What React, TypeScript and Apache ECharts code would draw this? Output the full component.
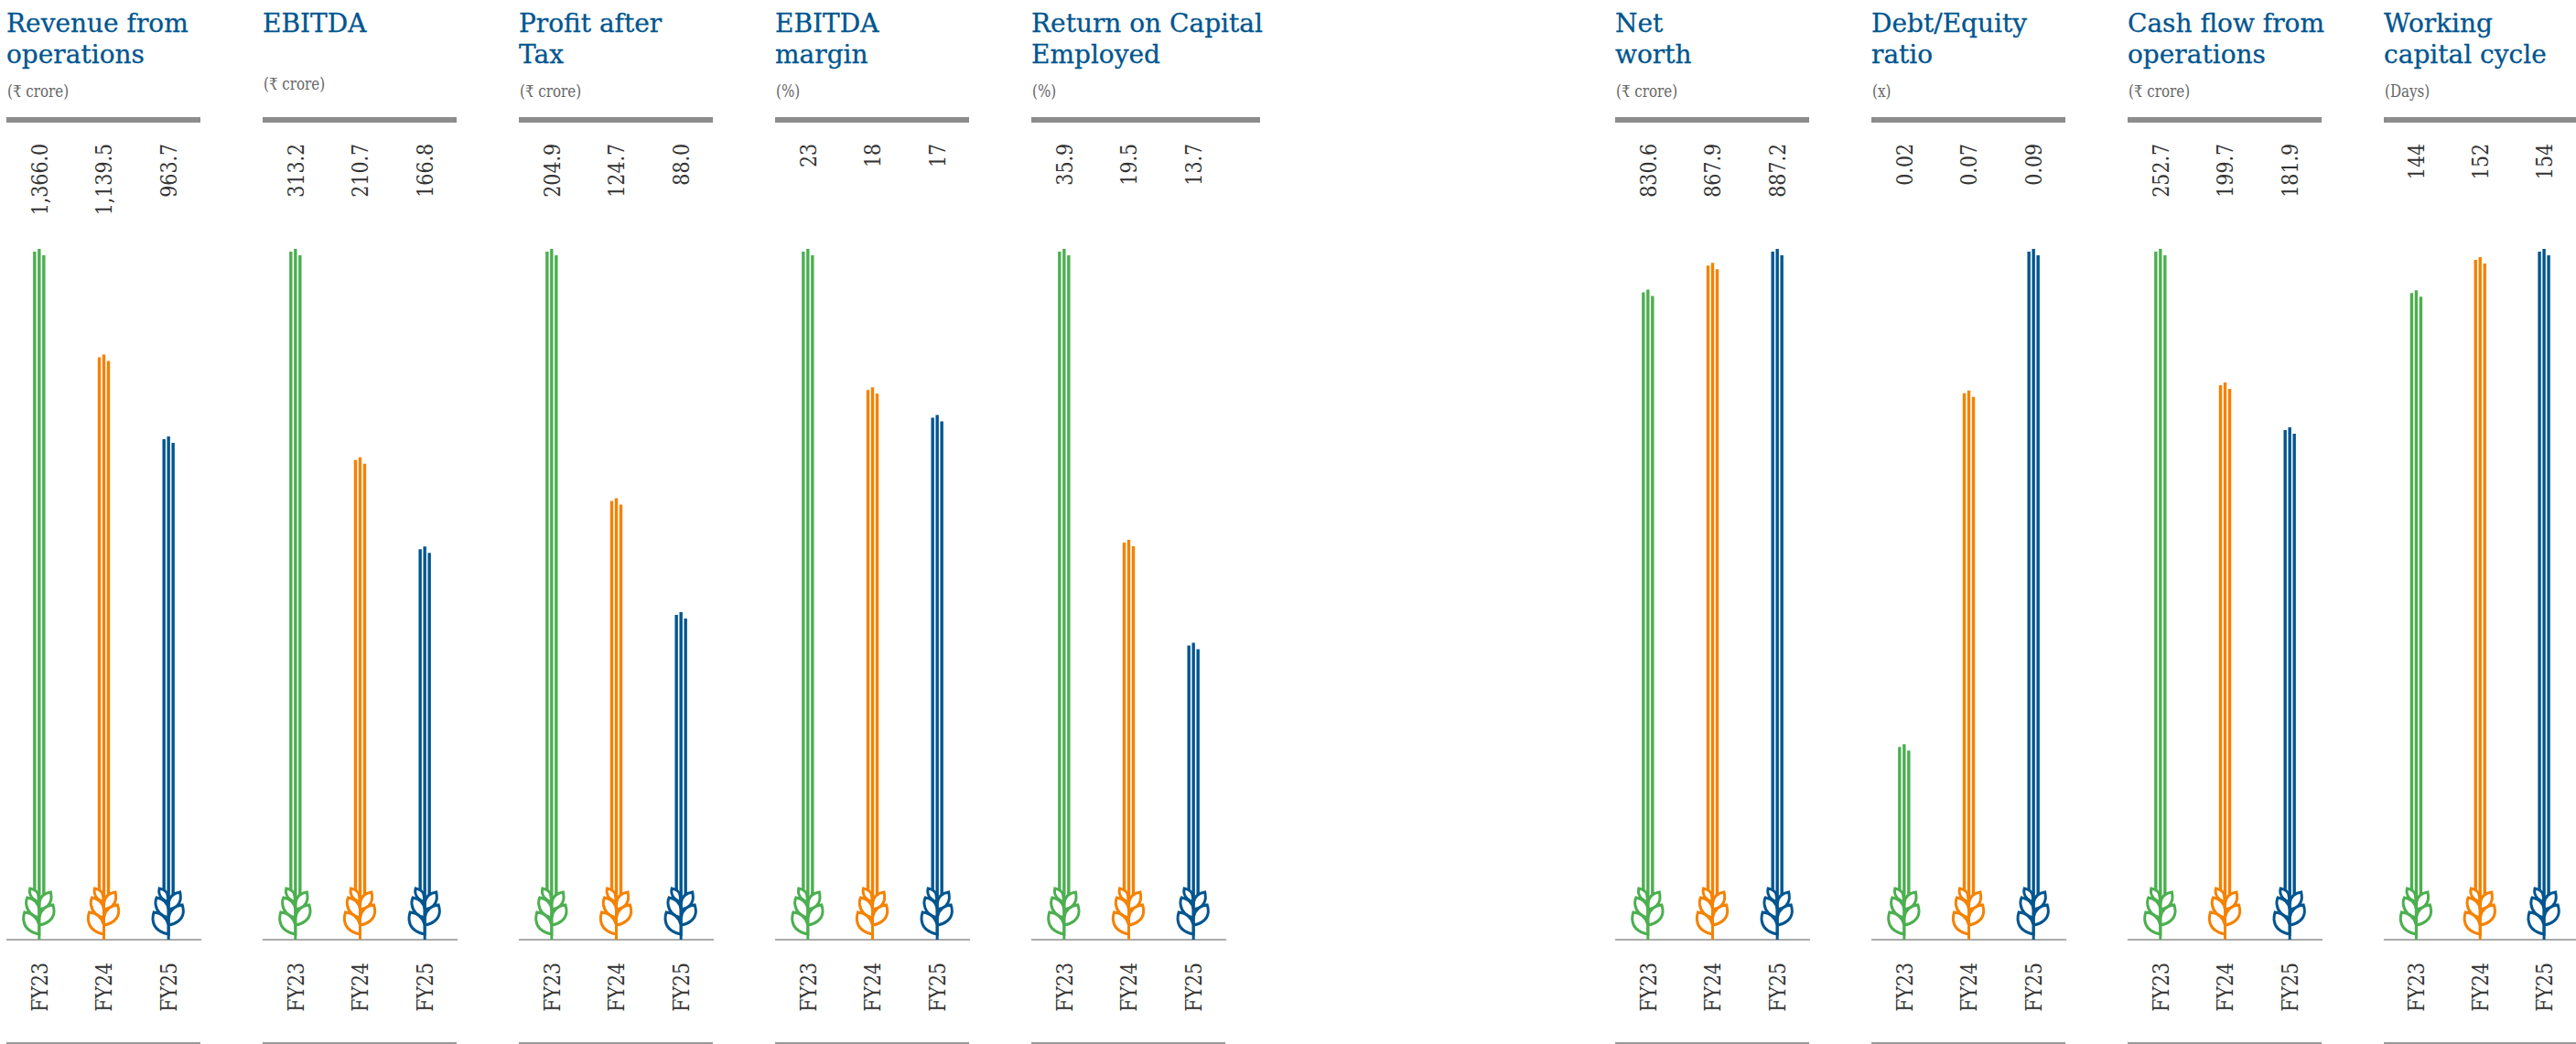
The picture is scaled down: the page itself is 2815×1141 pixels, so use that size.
import React, { useEffect, useRef } from "react";
import * as echarts from "echarts";

const categories = ["FY23", "FY24", "FY25"];
const barColors = ["#4CAF50", "#F58200", "#00558F"];

const revenue = [1366.0, 1139.5, 963.7];
const ebitda = [313.2, 210.7, 166.8];
const profitAfterTax = [204.9, 124.7, 88.0];
const ebitdaMargin = [23, 18, 17];
const returnOnCapital = [35.9, 19.5, 13.7];
const netWorth = [830.6, 867.9, 887.2];
const debtEquity = [0.02, 0.07, 0.09];
const cashFlow = [252.7, 199.7, 181.9];
const workingCapital = [144, 152, 154];

const revenueLabels = ["1,366.0", "1,139.5", "963.7"];
const ebitdaLabels = ["313.2", "210.7", "166.8"];
const patLabels = ["204.9", "124.7", "88.0"];
const marginLabels = ["23", "18", "17"];
const roceLabels = ["35.9", "19.5", "13.7"];
const netWorthLabels = ["830.6", "867.9", "887.2"];
const deLabels = ["0.02", "0.07", "0.09"];
const cashLabels = ["252.7", "199.7", "181.9"];
const wccLabels = ["144", "152", "154"];

const titles = [
  "Revenue from\noperations", "EBITDA", "Profit after\nTax", "EBITDA\nmargin",
  "Return on Capital\nEmployed", "Net\nworth", "Debt/Equity\nratio",
  "Cash flow from\noperations", "Working\ncapital cycle",
];
const units = ["(₹ crore)", "(₹ crore)", "(₹ crore)", "(%)", "(%)", "(₹ crore)", "(x)", "(₹ crore)", "(Days)"];
const panelValues = [revenue, ebitda, profitAfterTax, ebitdaMargin, returnOnCapital, netWorth, debtEquity, cashFlow, workingCapital];
const panelLabels = [revenueLabels, ebitdaLabels, patLabels, marginLabels, roceLabels, netWorthLabels, deLabels, cashLabels, wccLabels];
const panelLefts = [7, 287, 567, 847, 1127, 1765, 2045, 2325, 2605];
const ruleWidths = [212, 212, 212, 212, 250, 212, 212, 212, 212];

const WHEAT =
  "M0 -6C-10 -8 -16 -13 -17 -21C-17.500 -25 -17 -27 -16 -30C-8 -29 -2 -25 0 -16Z" +
  "M0 -16C8 -17 15 -22 16 -29C16.500 -32 16 -35 15 -38C7 -37 1 -32 0 -24Z" +
  "M0 -24C-8 -26 -13 -31 -14 -38C-14.500 -41 -14 -44 -13 -46C-7 -45 -1 -41 0 -33Z" +
  "M0 -33C7 -34 12 -38 13 -44C13.500 -47 13 -49 12.500 -52C6 -51 1 -47 0 -40Z" +
  "M0 -41C-5 -43 -9 -46 -10 -50C-10.500 -52 -10.500 -54 -10 -56C-5 -55 -1 -52 -1 -48Z";

echarts.graphic.registerShape("wheat", echarts.graphic.extendPath(WHEAT, {}));

const GRID_TOP = 272;
const GRID_H = 696;
const BASE_OFFSET = 59;
const SERIF = "'DejaVu Serif', serif";

function buildOption() {
  const grid: any[] = [], xAxis: any[] = [], yAxis: any[] = [], series: any[] = [];
  const title: any[] = [], graphic: any[] = [];
  panelValues.forEach((vals, p) => {
    const left = panelLefts[p];
    grid.push({ left: left + 0.5, top: GRID_TOP, width: 212, height: GRID_H });
    xAxis.push({
      type: "category", gridIndex: p, data: categories, offset: BASE_OFFSET,
      axisTick: { show: false },
      axisLine: { show: true, onZero: false, lineStyle: { color: "#8F8F8F", width: 1.5 } },
      axisLabel: { show: false },
    });
    yAxis.push({ type: "value", gridIndex: p, show: false, min: 0, max: Math.max(...vals), splitLine: { show: false } });
    title.push({
      text: titles[p], left: left, top: 8,
      textStyle: {
        color: "#00558F", fontFamily: SERIF, fontWeight: "normal", fontSize: 28, lineHeight: 34.5,
        textBorderColor: "#00558F", textBorderWidth: 0.3,
      },
      padding: 0,
    });
    graphic.push({
      type: "text", x: left + 1, y: titles[p].includes("\n") ? 100 : 92, scaleX: 0.84,
      style: { text: units[p], fill: "#666666", fontFamily: SERIF, fontSize: 18, verticalAlign: "middle" },
    });
    graphic.push({ type: "rect", shape: { x: left, y: 128, width: ruleWidths[p], height: 6 }, style: { fill: "#8C8C8C" } });
    graphic.push({ type: "rect", shape: { x: left, y: 1139, width: 212, height: 2 }, style: { fill: "#999999" } });
    const labels = panelLabels[p];
    series.push({
      type: "custom", xAxisIndex: p, yAxisIndex: p, coordinateSystem: "cartesian2d",
      clip: false, silent: true,
      encode: { x: 0, y: 1 },
      data: vals.map((v, i) => [i, v]),
      renderItem: (_: any, api: any) => {
        const i = api.value(0);
        const [cx, top] = api.coord([i, api.value(1)]);
        const [, zero] = api.coord([i, 0]);
        const color = barColors[i];
        const ground = zero + BASE_OFFSET;
        const prong = (dx: number, y: number) => ({
          type: "rect", shape: { x: cx + dx, y, width: 3.4, height: ground - 45 - y }, style: { fill: color },
        });
        const rotated = (text: string, y: number) => ({
          type: "text", x: cx, y, rotation: Math.PI / 2, scaleX: 0.82,
          style: { text, align: "right", verticalAlign: "middle", fill: "#333333", fontFamily: SERIF, fontSize: 25 },
        });
        return {
          type: "group",
          children: [
            prong(-6.7, top + 3), prong(-1.7, top), prong(3.3, top + 7),
            { type: "wheat", x: cx, y: ground, style: { fill: "#FFFFFF", stroke: color, lineWidth: 3 } },
            { type: "rect", shape: { x: cx - 1.5, y: ground - 48, width: 3, height: 48 }, style: { fill: color } },
            rotated(labels[i], 157),
            rotated(categories[i], 1052),
          ],
        };
      },
    });
  });
  return { animation: false, backgroundColor: "#FFFFFF", grid, xAxis, yAxis, series, title, graphic };
}

export default function App() {
  const ref = useRef<HTMLDivElement>(null);
  useEffect(() => {
    document.body.style.margin = "0";
    const chart = echarts.init(ref.current!, null, { renderer: "svg" });
    chart.setOption(buildOption());
    return () => chart.dispose();
  }, []);
  return <div ref={ref} style={{ width: 2815, height: 1141, overflow: "hidden" }} />;
}
